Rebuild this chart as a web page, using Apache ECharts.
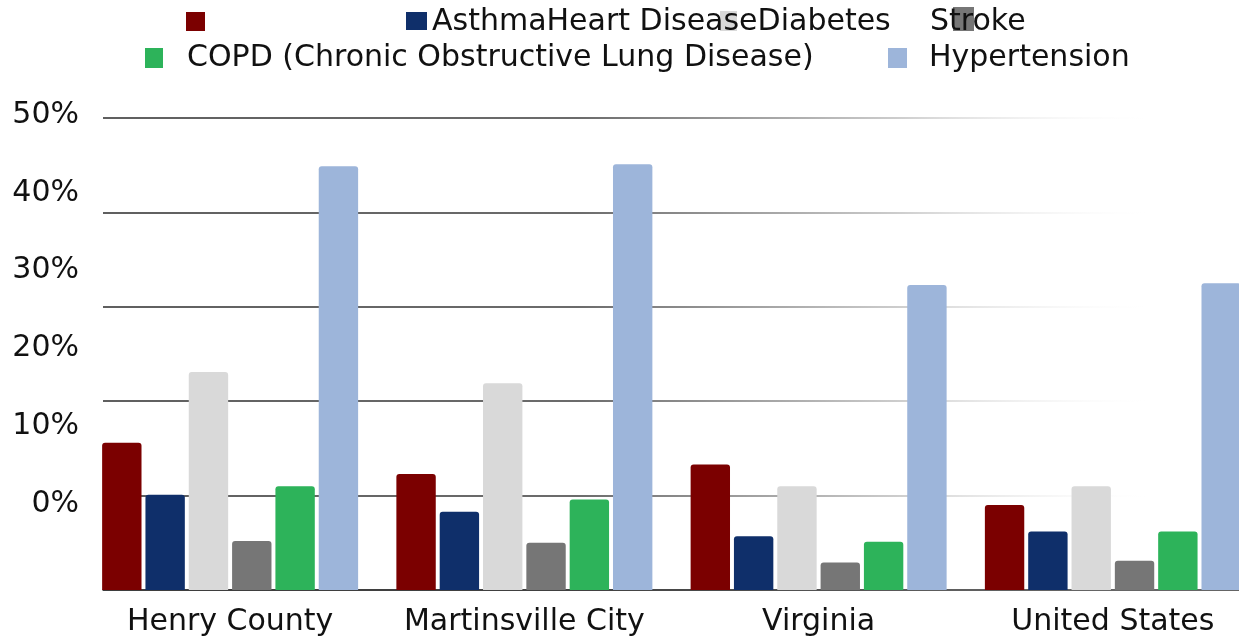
<!DOCTYPE html>
<html>
<head>
    <meta charset="utf-8">
    <title>Chronic disease rates</title>
    <script src="https://cdn.jsdelivr.net/npm/echarts@6/dist/echarts.min.js"></script>
    <style>
        html, body { margin: 0; padding: 0; background: #fff; overflow: hidden; }
    </style>
</head>
<body>
    <!-- the last bar group runs off the right edge in the original, so the chart is a bit wider than the window -->
    <div id="main" style="width: 1260px;height:643px;"></div>
    <script type="text/javascript">
        var categories = ['Henry County', 'Martinsville City', 'Virginia', 'United States'];
        var asthma = [15.6, 12.3, 13.3, 9.0];
        var heartDisease = [10.1, 8.3, 5.7, 6.2];
        var diabetes = [23.1, 21.9, 11.0, 11.0];
        var stroke = [5.2, 5.0, 2.9, 3.1];
        var copd = [11.0, 9.6, 5.1, 6.2];
        var hypertension = [44.9, 45.1, 32.3, 32.5];
        var tickLabels = ['0%', '10%', '20%', '30%', '40%', '50%'];

        var seriesNames = ['Asthma', 'Heart Disease', 'Diabetes', 'Stroke',
            'COPD (Chronic Obstructive Lung Disease)', 'Hypertension'];
        var seriesData = [asthma, heartDisease, diabetes, stroke, copd, hypertension];
        var colors = ['#7b0000', '#0f2f6a', '#d9d9d9', '#767676', '#2db35a', '#9db5da'];

        var font = '"DejaVu Sans", sans-serif';
        var fontSize = 30;
        var myChart = echarts.init(document.getElementById('main'));

        // legend icons sit apart from their text in the original, so each gets its own legend
        var iconPos = [
            [186, 12, 19, 19], [406, 12, 21, 18], [720, 11, 17, 20],
            [953, 7, 21, 24], [145, 48, 18, 20], [888, 48, 19, 20]
        ];
        var legends = iconPos.map(function (p, i) {
            return {
                data: [seriesNames[i]],
                left: p[0], top: p[1],
                itemWidth: p[2], itemHeight: p[3],
                icon: 'rect',
                selectedMode: false,
                padding: 0,
                formatter: function () { return ''; },
                z: 2
            };
        });

        var series = seriesData.map(function (d, i) {
            return {
                name: seriesNames[i],
                type: 'bar',
                data: d,
                barGap: '10%',
                barCategoryGap: '13%',
                itemStyle: { color: colors[i], borderRadius: [3, 3, 0, 0] }
            };
        });

        function legendText(txt, x, y) {
            return {
                type: 'text', x: x, y: y, z: 100,
                style: {
                    text: txt, fontFamily: font, fontSize: fontSize, fill: '#111',
                    align: 'left', verticalAlign: 'middle'
                }
            };
        }

        var option = {
            backgroundColor: '#fff',
            animation: false,
            color: colors,
            legend: legends,
            grid: [
                // bars
                { left: 83, right: 0, top: 118, bottom: 53 },
                // tick labels (they sit off the gridlines in the original)
                { left: 87, right: 100, top: 115, bottom: 139 },
                // gridlines and baseline, starting at the first bar
                { left: 103, right: 0, top: 118, bottom: 53 }
            ],
            xAxis: [{
                type: 'category',
                data: categories,
                gridIndex: 0,
                axisLine: { show: false },
                axisTick: { show: false },
                axisLabel: { fontFamily: font, fontSize: fontSize, color: '#111', margin: 17, interval: 0 }
            }, {
                type: 'value',
                gridIndex: 1,
                show: false
            }, {
                type: 'value',
                gridIndex: 2,
                axisLine: { show: true, lineStyle: { color: '#333', width: 1.5 } },
                axisTick: { show: false },
                axisLabel: { show: false },
                splitLine: { show: false }
            }],
            yAxis: [{
                type: 'value',
                gridIndex: 0,
                min: 0, max: 50, interval: 10,
                axisLabel: { show: false },
                axisLine: { show: false },
                splitLine: { show: false }
            }, {
                type: 'value',
                gridIndex: 1,
                min: 0, max: 50, interval: 10,
                axisLine: { show: false },
                axisTick: { show: false },
                splitLine: { show: false },
                axisLabel: {
                    fontFamily: font, fontSize: fontSize, color: '#111', margin: 8,
                    formatter: function (v) { return tickLabels[Math.round(v / 10)]; }
                }
            }, {
                type: 'value',
                gridIndex: 2,
                min: 0, max: 50, interval: 10,
                axisLabel: { show: false },
                axisLine: { show: false },
                axisTick: { show: false },
                splitLine: {
                    lineStyle: {
                        width: 1.5,
                        color: new echarts.graphic.LinearGradient(103, 0, 1160, 0, [
                            { offset: 0, color: '#2a2a2a' },
                            { offset: 0.45, color: '#3a3a3a' },
                            { offset: 0.75, color: '#bbb' },
                            { offset: 1, color: 'rgba(255,255,255,0)' }
                        ], true)
                    }
                }
            }],
            graphic: [
                legendText('AsthmaHeart DiseaseDiabetes', 432, 22),
                legendText('Stroke', 930, 22),
                legendText('COPD (Chronic Obstructive Lung Disease)', 187, 58),
                legendText('Hypertension', 929, 58)
            ],
            series: series
        };
        myChart.setOption(option);
    </script>
</body>
</html>
